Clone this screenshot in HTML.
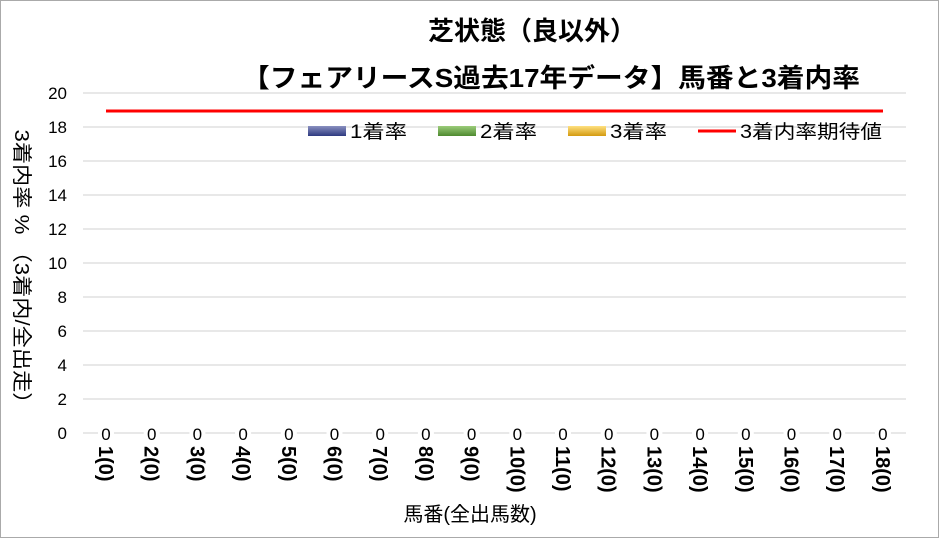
<!DOCTYPE html>
<html><head><meta charset="utf-8"><style>
body{margin:0;background:#fff}
svg text{font-family:"Liberation Sans","Noto Sans CJK JP",sans-serif}
</style></head><body>
<svg width="940" height="539" xmlns="http://www.w3.org/2000/svg">
<rect x="0.5" y="0.5" width="938" height="537" fill="#fff" stroke="#aaa"/>
<text x="532" y="40" font-size="26" font-weight="bold" text-anchor="middle">芝状態（良以外）</text>
<text x="551" y="87" font-size="26" font-weight="bold" text-anchor="middle" textLength="618" lengthAdjust="spacingAndGlyphs">【フェアリースS過去17年データ】馬番と3着内率</text>
<g stroke="#d9d9d9" stroke-width="1.3">
<line x1="83" x2="906" y1="93" y2="93"/><line x1="83" x2="906" y1="127" y2="127"/>
<line x1="83" x2="906" y1="161" y2="161"/><line x1="83" x2="906" y1="195" y2="195"/>
<line x1="83" x2="906" y1="229" y2="229"/><line x1="83" x2="906" y1="263" y2="263"/>
<line x1="83" x2="906" y1="297" y2="297"/><line x1="83" x2="906" y1="331" y2="331"/>
<line x1="83" x2="906" y1="365" y2="365"/><line x1="83" x2="906" y1="399" y2="399"/>
<line x1="83" x2="906" y1="433" y2="433"/>
</g>
<g font-size="17" text-anchor="end">
<text x="67" y="99">20</text><text x="67" y="133">18</text><text x="67" y="167">16</text>
<text x="67" y="201">14</text><text x="67" y="235">12</text><text x="67" y="269">10</text>
<text x="67" y="303">8</text><text x="67" y="337">6</text><text x="67" y="371">4</text>
<text x="67" y="405">2</text><text x="67" y="439">0</text>
</g>
<line x1="106" x2="883" y1="111" y2="111" stroke="#f00" stroke-width="3"/>
<g font-size="19">
<defs><linearGradient id="g1" x1="0" y1="0" x2="0" y2="1"><stop offset="0" stop-color="#8a90c0"/><stop offset="1" stop-color="#2e3a80"/></linearGradient>
<linearGradient id="g2" x1="0" y1="0" x2="0" y2="1"><stop offset="0" stop-color="#9ccc7a"/><stop offset="1" stop-color="#4e8a30"/></linearGradient>
<linearGradient id="g3" x1="0" y1="0" x2="0" y2="1"><stop offset="0" stop-color="#ffe080"/><stop offset="1" stop-color="#d49a10"/></linearGradient></defs>
<rect x="308" y="126" width="38" height="10" fill="url(#g1)"/><text x="350" y="138" textLength="57" lengthAdjust="spacingAndGlyphs">1着率</text>
<rect x="438" y="126" width="38" height="10" fill="url(#g2)"/><text x="480" y="138" textLength="57" lengthAdjust="spacingAndGlyphs">2着率</text>
<rect x="568" y="126" width="38" height="10" fill="url(#g3)"/><text x="610" y="138" textLength="57" lengthAdjust="spacingAndGlyphs">3着率</text>
<line x1="698" x2="736" y1="131" y2="131" stroke="#f00" stroke-width="3"/><text x="740" y="138" textLength="142" lengthAdjust="spacingAndGlyphs">3着内率期待値</text>
</g>
<g font-size="17" text-anchor="middle" id="z"></g>
<g font-size="20" font-weight="bold" id="xl"></g>
<text transform="translate(15,272) rotate(90)" font-size="20" text-anchor="middle" textLength="285" lengthAdjust="spacingAndGlyphs">3着内率 %  （3着内/全出走）</text>
<text x="470" y="521" font-size="20" text-anchor="middle">馬番(全出馬数)</text>
<script>
var z=document.getElementById('z'),xl=document.getElementById('xl'),ns='http://www.w3.org/2000/svg';
for(var i=0;i<18;i++){var cx=106+i*45.7;
var r=document.createElementNS(ns,'rect');r.setAttribute('x',cx-8);r.setAttribute('y',425);r.setAttribute('width',16);r.setAttribute('height',17);r.setAttribute('fill','#fff');z.appendChild(r);
var t=document.createElementNS(ns,'text');t.setAttribute('x',cx);t.setAttribute('y',440);t.textContent='0';z.appendChild(t);
var u=document.createElementNS(ns,'text');u.setAttribute('transform','translate('+(cx-7)+',446) rotate(90)');u.textContent=(i+1)+'(0)';xl.appendChild(u);}
</script>
</svg>
</body></html>
